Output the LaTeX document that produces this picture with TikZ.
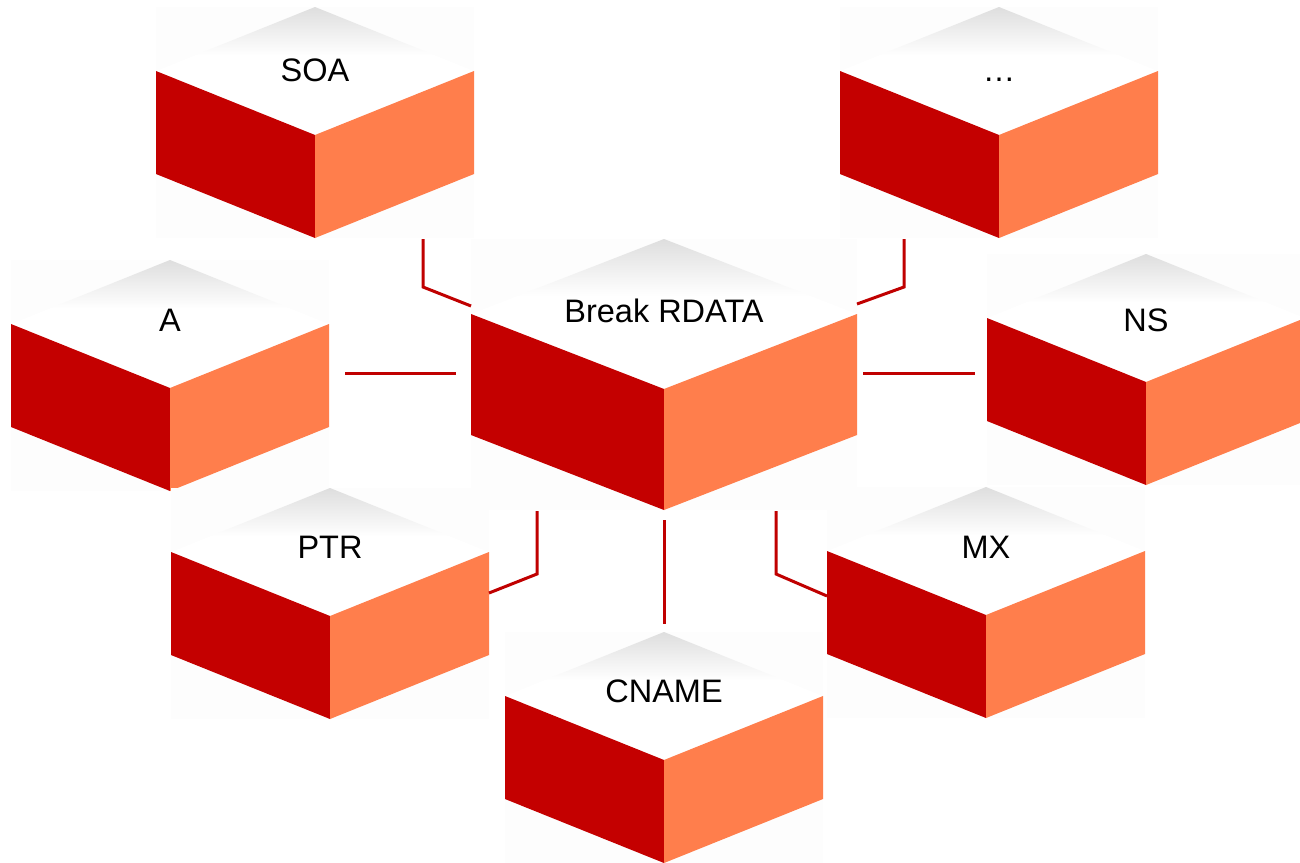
\documentclass[tikz,border=0pt]{standalone}
\usepackage{fontspec}
\setmainfont{Liberation Sans}
\usetikzlibrary{calc}

\definecolor{facedark}{HTML}{C40000}
\definecolor{facelight}{HTML}{FF7E4C}
\definecolor{linkred}{HTML}{C00000}
\definecolor{boxhaze}{HTML}{FDFDFD}

% top face: light grey at the back corner, fading to white towards the front
\pgfdeclareverticalshading{topface}{100bp}{color(0bp)=(white); color(56bp)=(white); color(75bp)=(black!13); color(100bp)=(black!13)}

\tikzset{
  link/.style={draw=linkred, line width=3pt, line join=miter},
  cubebody/.style={inner sep=0pt, outer sep=0pt, rectangle},
  cubelabel/.style={anchor=base, inner sep=0pt, font=\fontsize{32.5}{38}\selectfont, text=black},
}

% #1 name, #2 centre x, #3 back-corner y, #4 half width, #5 depth of the top face half,
% #6 side height, #7 label baseline offset below the side corners, #8 label text
\newcommand\drawcube[8]{%
  \fill[boxhaze] (#2-#4,#3) rectangle (#2+#4,#3+2*#5+#6);
  \shade[shading=topface] (#2,#3) -- (#2+#4,#3+#5) -- (#2,#3+2*#5) -- (#2-#4,#3+#5) -- cycle;
  \fill[facedark] (#2-#4,#3+#5) -- (#2,#3+2*#5) -- (#2,#3+2*#5+#6) -- (#2-#4,#3+#5+#6) -- cycle;
  \fill[facelight] (#2+#4,#3+#5) -- (#2,#3+2*#5) -- (#2,#3+2*#5+#6) -- (#2+#4,#3+#5+#6) -- cycle;
  \node[cubebody, minimum width=2*#4, minimum height=2*#5+#6] (#1) at (#2,#3+#5+#6/2) {};
  \node[cubelabel] (#1-label) at (#2,#3+#5+#7) {#8};
}

\begin{document}
\begin{tikzpicture}[x=1pt, y=-1pt]
  \useasboundingbox (0,0) rectangle (1300,862);
  \fill[white] (0,0) rectangle (1300,862);

  \drawcube{soa}{315}{7}{159}{64}{103}{10}{SOA}
  \drawcube{more}{999}{7}{159}{64}{103}{10}{…}
  \drawcube{a}{170}{260}{159}{64}{103}{7}{A}
  \drawcube{ns}{1146}{254}{159}{64}{103}{13}{NS}
  \drawcube{main}{664}{239}{193}{75}{121}{8}{Break RDATA}
  \drawcube{ptr}{330}{488}{159}{64}{103}{6}{PTR}
  \drawcube{mx}{986}{487}{159}{64}{103}{7}{MX}
  \drawcube{cname}{664}{632}{159}{64}{103}{6}{CNAME}

  % connectors from the record types to the central cube
  \draw[link] ($(soa.south)+(108,1)$) -- ++(0,48) -- ($(main.north west)+(0,67)$);
  \draw[link] ($(more.south)+(-95,1)$) -- ++(0,48) -- ($(main.north east)+(0,65)$);
  \draw[link] ($(a.north east)+(16,113)$) -- ($(main.north west)+(-15,134)$);
  \draw[link] ($(main.north east)+(6,134)$) -- ($(ns.north west)+(-12,119)$);
  \draw[link] ($(main.south west)+(66,1)$) -- ++(0,63) -- ($(ptr.north east)+(0,105)$);
  \draw[link] ($(main.south)+(0,10)$) -- ($(cname.north)+(0,-8)$);
  \draw[link] ($(main.south east)+(-81,1)$) -- ++(0,63) -- ($(mx.north west)+(0,109)$);
\end{tikzpicture}
\end{document}
